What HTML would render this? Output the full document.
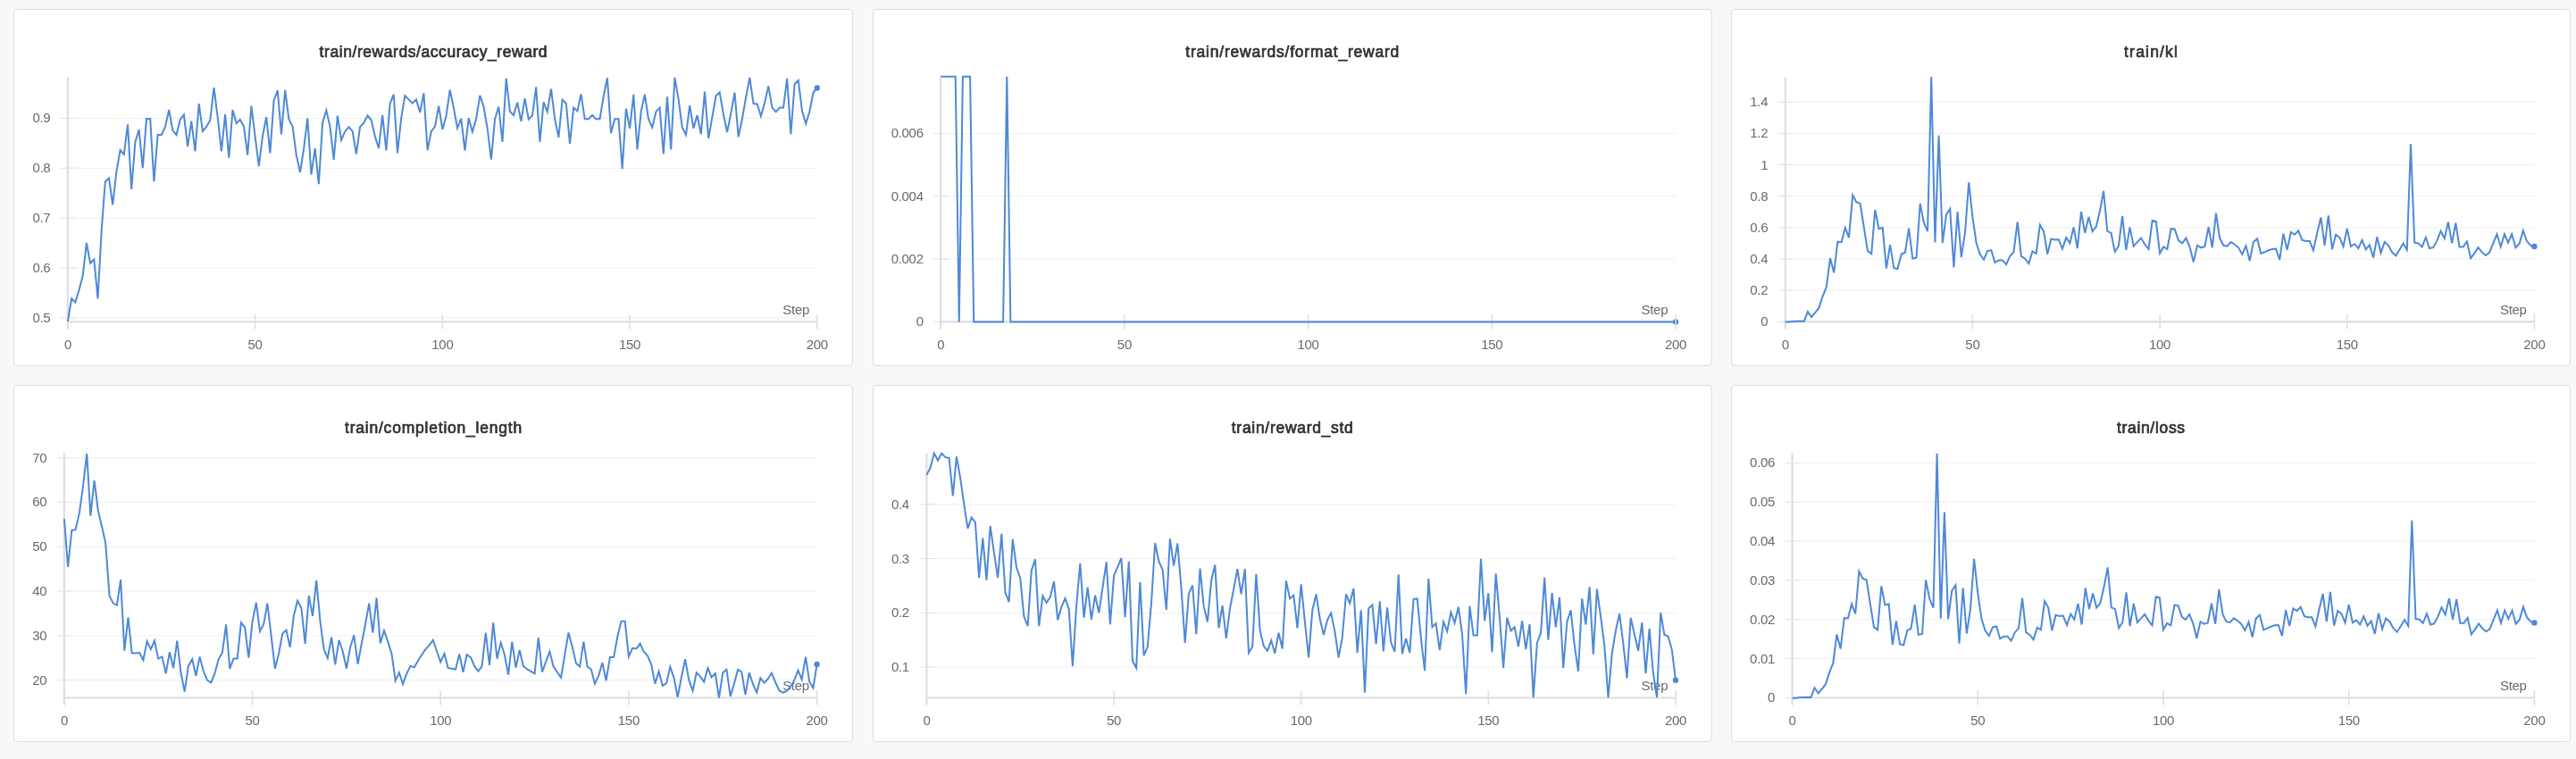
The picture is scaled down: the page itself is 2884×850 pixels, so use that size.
<!DOCTYPE html>
<html><head><meta charset="utf-8"><style>
html,body{margin:0;padding:0;background:#f8f8f8;}
body{width:2884px;height:850px;overflow:hidden;}
svg{display:block;will-change:transform;filter:blur(0.35px);}
.t{font-family:"Liberation Sans",sans-serif;font-weight:normal;font-size:17.5px;fill:#2f3136;stroke:#2f3136;stroke-width:0.7px;}
.l{font-family:"Liberation Sans",sans-serif;font-size:15px;fill:#676a72;letter-spacing:-0.3px;}
.g{stroke:#efeff1;stroke-width:1;}
.tk{stroke:#e2e2e6;stroke-width:1;}
.ax{stroke:#dedee3;stroke-width:2.2;}
.xt{stroke:#dedee3;stroke-width:1.6;}
.d{fill:none;stroke:#4e89d7;stroke-width:2;stroke-linejoin:miter;stroke-miterlimit:4;}
</style></head><body>
<svg width="2884" height="850" viewBox="0 0 2884 850">
<rect x="0" y="0" width="2884" height="850" fill="#f8f8f8"/>
<rect x="15.8" y="10.5" width="938.6" height="398.8" rx="3" ry="3" fill="#fff" stroke="#dcdcdc" stroke-width="1"/>
<text x="485.1" y="63.9" class="t" text-anchor="middle" textLength="255.0" lengthAdjust="spacing">train/rewards/accuracy_reward</text>
<line x1="75.9" y1="355.9" x2="914.8" y2="355.9" class="g"/>
<line x1="67.9" y1="355.9" x2="83.9" y2="355.9" class="tk"/>
<text x="56.4" y="360.8" class="l" text-anchor="end">0.5</text>
<line x1="75.9" y1="300.1" x2="914.8" y2="300.1" class="g"/>
<line x1="67.9" y1="300.1" x2="83.9" y2="300.1" class="tk"/>
<text x="56.4" y="304.9" class="l" text-anchor="end">0.6</text>
<line x1="75.9" y1="244.2" x2="914.8" y2="244.2" class="g"/>
<line x1="67.9" y1="244.2" x2="83.9" y2="244.2" class="tk"/>
<text x="56.4" y="249.1" class="l" text-anchor="end">0.7</text>
<line x1="75.9" y1="188.3" x2="914.8" y2="188.3" class="g"/>
<line x1="67.9" y1="188.3" x2="83.9" y2="188.3" class="tk"/>
<text x="56.4" y="193.2" class="l" text-anchor="end">0.8</text>
<line x1="75.9" y1="132.5" x2="914.8" y2="132.5" class="g"/>
<line x1="67.9" y1="132.5" x2="83.9" y2="132.5" class="tk"/>
<text x="56.4" y="137.4" class="l" text-anchor="end">0.9</text>
<text x="75.9" y="391.1" class="l" text-anchor="middle">0</text>
<text x="285.6" y="391.1" class="l" text-anchor="middle">50</text>
<text x="495.4" y="391.1" class="l" text-anchor="middle">100</text>
<text x="705.1" y="391.1" class="l" text-anchor="middle">150</text>
<text x="914.8" y="391.1" class="l" text-anchor="middle">200</text>
<line x1="75.9" y1="86.2" x2="75.9" y2="368.4" class="ax"/>
<line x1="75.9" y1="360.4" x2="914.8" y2="360.4" class="ax"/>
<line x1="285.6" y1="352.4" x2="285.6" y2="368.4" class="xt"/>
<line x1="495.4" y1="352.4" x2="495.4" y2="368.4" class="xt"/>
<line x1="705.1" y1="352.4" x2="705.1" y2="368.4" class="xt"/>
<text x="906.0" y="352.0" class="l" text-anchor="end">Step</text>
<polyline points="75.9,360.0 80.1,334.4 84.3,338.7 88.5,324.7 92.7,309.1 96.9,272.0 101.1,294.8 105.3,290.5 109.5,334.4 113.7,258.0 117.8,203.4 122.0,199.5 126.2,229.4 130.4,192.0 134.6,168.0 138.8,172.9 143.0,139.4 147.2,211.9 151.4,158.9 155.6,145.2 159.8,188.1 164.0,133.1 168.2,133.1 172.4,203.1 176.6,151.0 180.8,151.0 185.0,141.9 189.2,123.0 193.3,146.1 197.5,151.0 201.7,133.9 205.9,128.6 210.1,164.1 214.3,135.6 218.5,169.3 222.7,116.2 226.9,146.8 231.1,141.9 235.3,134.5 239.5,98.1 243.7,131.4 247.9,169.3 252.1,128.2 256.3,176.7 260.5,123.0 264.7,138.1 268.8,133.9 273.0,141.5 277.2,173.6 281.4,118.7 285.6,152.5 289.8,186.2 294.0,152.5 298.2,131.0 302.4,171.4 306.6,112.4 310.8,101.4 315.0,150.4 319.2,100.8 323.4,133.5 327.6,141.9 331.8,173.6 336.0,193.0 340.2,166.2 344.3,132.4 348.5,195.7 352.7,166.2 356.9,206.2 361.1,137.7 365.3,123.4 369.5,141.9 373.7,178.8 377.9,129.7 382.1,156.7 386.3,147.2 390.5,142.3 394.7,147.2 398.9,172.5 403.1,141.9 407.3,137.7 411.5,129.3 415.7,134.5 419.8,152.5 424.0,166.2 428.2,128.9 432.4,168.3 436.6,116.2 440.8,105.7 445.0,171.4 449.2,132.4 453.4,107.1 457.6,111.4 461.8,115.6 466.0,111.4 470.2,126.1 474.4,104.4 478.6,168.3 482.8,147.2 487.0,141.9 491.2,118.7 495.4,145.1 499.5,130.1 503.7,100.6 507.9,120.6 512.1,143.4 516.3,132.8 520.5,168.7 524.7,132.2 528.9,147.6 533.1,133.3 537.3,106.9 541.5,119.5 545.7,143.8 549.9,178.6 554.1,133.3 558.3,119.5 562.5,159.0 566.7,87.9 570.9,124.8 575.0,129.0 579.2,114.7 583.4,135.8 587.6,110.1 591.8,133.7 596.0,129.5 600.2,97.4 604.4,159.0 608.6,114.3 612.8,125.2 617.0,99.5 621.2,133.3 625.4,153.9 629.6,111.7 633.8,116.0 638.0,161.1 642.2,120.6 646.4,124.4 650.5,105.4 654.7,133.3 658.9,133.3 663.1,129.0 667.3,133.3 671.5,133.3 675.7,108.0 679.9,87.3 684.1,149.1 688.3,133.3 692.5,133.3 696.7,189.1 700.9,121.7 705.1,143.8 709.3,105.8 713.5,167.4 717.7,124.8 721.9,105.8 726.0,133.3 730.2,142.7 734.4,125.2 738.6,120.6 742.8,172.3 747.0,108.4 751.2,167.4 755.4,86.9 759.6,111.1 763.8,142.7 768.0,151.2 772.2,118.1 776.4,143.8 780.6,129.0 784.8,150.1 789.0,102.7 793.2,154.8 797.4,131.1 801.5,107.5 805.7,103.3 809.9,128.0 814.1,148.0 818.3,126.9 822.5,103.7 826.7,153.3 830.9,133.3 835.1,109.0 839.3,86.9 843.5,116.0 847.7,116.4 851.9,130.1 856.1,115.3 860.3,96.4 864.5,120.6 868.7,125.2 872.9,120.6 877.0,120.6 881.2,87.9 885.4,150.1 889.6,94.2 893.8,90.0 898.0,124.4 902.2,138.5 906.4,124.8 910.6,103.3 914.8,98.5" class="d"/>
<circle cx="914.8" cy="98.5" r="3.2" fill="#4e89d7"/>
<line x1="914.8" y1="352.4" x2="914.8" y2="368.4" class="xt"/>
<rect x="977.5" y="10.5" width="938.6" height="398.8" rx="3" ry="3" fill="#fff" stroke="#dcdcdc" stroke-width="1"/>
<text x="1446.8" y="63.9" class="t" text-anchor="middle" textLength="238.9" lengthAdjust="spacing">train/rewards/format_reward</text>
<line x1="1053.2" y1="360.4" x2="1876.0" y2="360.4" class="g"/>
<line x1="1045.2" y1="360.4" x2="1061.2" y2="360.4" class="tk"/>
<text x="1033.7" y="365.3" class="l" text-anchor="end">0</text>
<line x1="1053.2" y1="290.1" x2="1876.0" y2="290.1" class="g"/>
<line x1="1045.2" y1="290.1" x2="1061.2" y2="290.1" class="tk"/>
<text x="1033.7" y="295.0" class="l" text-anchor="end">0.002</text>
<line x1="1053.2" y1="219.8" x2="1876.0" y2="219.8" class="g"/>
<line x1="1045.2" y1="219.8" x2="1061.2" y2="219.8" class="tk"/>
<text x="1033.7" y="224.7" class="l" text-anchor="end">0.004</text>
<line x1="1053.2" y1="149.5" x2="1876.0" y2="149.5" class="g"/>
<line x1="1045.2" y1="149.5" x2="1061.2" y2="149.5" class="tk"/>
<text x="1033.7" y="154.4" class="l" text-anchor="end">0.006</text>
<text x="1053.2" y="391.1" class="l" text-anchor="middle">0</text>
<text x="1258.9" y="391.1" class="l" text-anchor="middle">50</text>
<text x="1464.6" y="391.1" class="l" text-anchor="middle">100</text>
<text x="1670.3" y="391.1" class="l" text-anchor="middle">150</text>
<text x="1876.0" y="391.1" class="l" text-anchor="middle">200</text>
<line x1="1053.2" y1="86.2" x2="1053.2" y2="368.4" class="ax"/>
<line x1="1053.2" y1="360.4" x2="1876.0" y2="360.4" class="ax"/>
<line x1="1258.9" y1="352.4" x2="1258.9" y2="368.4" class="xt"/>
<line x1="1464.6" y1="352.4" x2="1464.6" y2="368.4" class="xt"/>
<line x1="1670.3" y1="352.4" x2="1670.3" y2="368.4" class="xt"/>
<text x="1867.2" y="352.0" class="l" text-anchor="end">Step</text>
<polyline points="1053.2,85.8 1057.3,85.8 1061.4,85.8 1065.5,85.8 1069.7,85.8 1073.8,360.4 1077.9,85.8 1082.0,85.8 1086.1,85.8 1090.2,360.4 1094.3,360.4 1098.5,360.4 1102.6,360.4 1106.7,360.4 1110.8,360.4 1114.9,360.4 1119.0,360.4 1123.1,360.4 1127.3,85.8 1131.4,360.4 1135.5,360.4 1139.6,360.4 1143.7,360.4 1147.8,360.4 1151.9,360.4 1156.0,360.4 1160.2,360.4 1164.3,360.4 1168.4,360.4 1172.5,360.4 1176.6,360.4 1180.7,360.4 1184.8,360.4 1189.0,360.4 1193.1,360.4 1197.2,360.4 1201.3,360.4 1205.4,360.4 1209.5,360.4 1213.6,360.4 1217.8,360.4 1221.9,360.4 1226.0,360.4 1230.1,360.4 1234.2,360.4 1238.3,360.4 1242.4,360.4 1246.6,360.4 1250.7,360.4 1254.8,360.4 1258.9,360.4 1263.0,360.4 1267.1,360.4 1271.2,360.4 1275.4,360.4 1279.5,360.4 1283.6,360.4 1287.7,360.4 1291.8,360.4 1295.9,360.4 1300.0,360.4 1304.2,360.4 1308.3,360.4 1312.4,360.4 1316.5,360.4 1320.6,360.4 1324.7,360.4 1328.8,360.4 1333.0,360.4 1337.1,360.4 1341.2,360.4 1345.3,360.4 1349.4,360.4 1353.5,360.4 1357.6,360.4 1361.8,360.4 1365.9,360.4 1370.0,360.4 1374.1,360.4 1378.2,360.4 1382.3,360.4 1386.4,360.4 1390.5,360.4 1394.7,360.4 1398.8,360.4 1402.9,360.4 1407.0,360.4 1411.1,360.4 1415.2,360.4 1419.3,360.4 1423.5,360.4 1427.6,360.4 1431.7,360.4 1435.8,360.4 1439.9,360.4 1444.0,360.4 1448.1,360.4 1452.3,360.4 1456.4,360.4 1460.5,360.4 1464.6,360.4 1468.7,360.4 1472.8,360.4 1476.9,360.4 1481.1,360.4 1485.2,360.4 1489.3,360.4 1493.4,360.4 1497.5,360.4 1501.6,360.4 1505.7,360.4 1509.9,360.4 1514.0,360.4 1518.1,360.4 1522.2,360.4 1526.3,360.4 1530.4,360.4 1534.5,360.4 1538.7,360.4 1542.8,360.4 1546.9,360.4 1551.0,360.4 1555.1,360.4 1559.2,360.4 1563.3,360.4 1567.5,360.4 1571.6,360.4 1575.7,360.4 1579.8,360.4 1583.9,360.4 1588.0,360.4 1592.1,360.4 1596.2,360.4 1600.4,360.4 1604.5,360.4 1608.6,360.4 1612.7,360.4 1616.8,360.4 1620.9,360.4 1625.0,360.4 1629.2,360.4 1633.3,360.4 1637.4,360.4 1641.5,360.4 1645.6,360.4 1649.7,360.4 1653.8,360.4 1658.0,360.4 1662.1,360.4 1666.2,360.4 1670.3,360.4 1674.4,360.4 1678.5,360.4 1682.6,360.4 1686.8,360.4 1690.9,360.4 1695.0,360.4 1699.1,360.4 1703.2,360.4 1707.3,360.4 1711.4,360.4 1715.6,360.4 1719.7,360.4 1723.8,360.4 1727.9,360.4 1732.0,360.4 1736.1,360.4 1740.2,360.4 1744.4,360.4 1748.5,360.4 1752.6,360.4 1756.7,360.4 1760.8,360.4 1764.9,360.4 1769.0,360.4 1773.2,360.4 1777.3,360.4 1781.4,360.4 1785.5,360.4 1789.6,360.4 1793.7,360.4 1797.8,360.4 1801.9,360.4 1806.1,360.4 1810.2,360.4 1814.3,360.4 1818.4,360.4 1822.5,360.4 1826.6,360.4 1830.7,360.4 1834.9,360.4 1839.0,360.4 1843.1,360.4 1847.2,360.4 1851.3,360.4 1855.4,360.4 1859.5,360.4 1863.7,360.4 1867.8,360.4 1871.9,360.4 1876.0,360.4" class="d"/>
<circle cx="1876.0" cy="360.4" r="3.2" fill="#4e89d7"/>
<line x1="1876.0" y1="352.4" x2="1876.0" y2="368.4" class="xt"/>
<rect x="1938.7" y="10.5" width="938.6" height="398.8" rx="3" ry="3" fill="#fff" stroke="#dcdcdc" stroke-width="1"/>
<text x="2408.0" y="63.9" class="t" text-anchor="middle" textLength="59.9" lengthAdjust="spacing">train/kl</text>
<line x1="1998.7" y1="360.3" x2="2837.4" y2="360.3" class="g"/>
<line x1="1990.7" y1="360.3" x2="2006.7" y2="360.3" class="tk"/>
<text x="1979.2" y="365.2" class="l" text-anchor="end">0</text>
<line x1="1998.7" y1="325.2" x2="2837.4" y2="325.2" class="g"/>
<line x1="1990.7" y1="325.2" x2="2006.7" y2="325.2" class="tk"/>
<text x="1979.2" y="330.1" class="l" text-anchor="end">0.2</text>
<line x1="1998.7" y1="290.0" x2="2837.4" y2="290.0" class="g"/>
<line x1="1990.7" y1="290.0" x2="2006.7" y2="290.0" class="tk"/>
<text x="1979.2" y="294.9" class="l" text-anchor="end">0.4</text>
<line x1="1998.7" y1="254.9" x2="2837.4" y2="254.9" class="g"/>
<line x1="1990.7" y1="254.9" x2="2006.7" y2="254.9" class="tk"/>
<text x="1979.2" y="259.8" class="l" text-anchor="end">0.6</text>
<line x1="1998.7" y1="219.7" x2="2837.4" y2="219.7" class="g"/>
<line x1="1990.7" y1="219.7" x2="2006.7" y2="219.7" class="tk"/>
<text x="1979.2" y="224.6" class="l" text-anchor="end">0.8</text>
<line x1="1998.7" y1="184.6" x2="2837.4" y2="184.6" class="g"/>
<line x1="1990.7" y1="184.6" x2="2006.7" y2="184.6" class="tk"/>
<text x="1979.2" y="189.5" class="l" text-anchor="end">1</text>
<line x1="1998.7" y1="149.4" x2="2837.4" y2="149.4" class="g"/>
<line x1="1990.7" y1="149.4" x2="2006.7" y2="149.4" class="tk"/>
<text x="1979.2" y="154.3" class="l" text-anchor="end">1.2</text>
<line x1="1998.7" y1="114.3" x2="2837.4" y2="114.3" class="g"/>
<line x1="1990.7" y1="114.3" x2="2006.7" y2="114.3" class="tk"/>
<text x="1979.2" y="119.2" class="l" text-anchor="end">1.4</text>
<text x="1998.7" y="391.1" class="l" text-anchor="middle">0</text>
<text x="2208.4" y="391.1" class="l" text-anchor="middle">50</text>
<text x="2418.1" y="391.1" class="l" text-anchor="middle">100</text>
<text x="2627.7" y="391.1" class="l" text-anchor="middle">150</text>
<text x="2837.4" y="391.1" class="l" text-anchor="middle">200</text>
<line x1="1998.7" y1="86.2" x2="1998.7" y2="368.4" class="ax"/>
<line x1="1998.7" y1="360.4" x2="2837.4" y2="360.4" class="ax"/>
<line x1="2208.4" y1="352.4" x2="2208.4" y2="368.4" class="xt"/>
<line x1="2418.1" y1="352.4" x2="2418.1" y2="368.4" class="xt"/>
<line x1="2627.7" y1="352.4" x2="2627.7" y2="368.4" class="xt"/>
<text x="2828.6" y="352.0" class="l" text-anchor="end">Step</text>
<polyline points="1998.7,360.6 2002.9,360.6 2007.1,359.9 2011.3,359.7 2015.5,359.5 2019.7,359.9 2023.9,349.1 2028.1,355.1 2032.2,350.2 2036.4,344.9 2040.6,331.8 2044.8,321.4 2049.0,289.1 2053.2,305.3 2057.4,270.7 2061.6,271.2 2065.8,255.0 2070.0,266.1 2074.2,218.4 2078.4,226.4 2082.6,228.0 2086.8,254.6 2091.0,281.1 2095.2,284.1 2099.3,235.0 2103.5,256.2 2107.7,255.0 2111.9,300.7 2116.1,274.2 2120.3,300.2 2124.5,301.1 2128.7,284.5 2132.9,282.7 2137.1,255.7 2141.3,289.6 2145.5,288.7 2149.7,228.0 2153.9,249.4 2158.1,259.1 2162.2,86.1 2166.4,271.4 2170.6,151.9 2174.8,272.0 2179.0,240.4 2183.2,233.9 2187.4,299.5 2191.6,237.1 2195.8,288.2 2200.0,260.7 2204.2,204.2 2208.4,243.0 2212.6,272.0 2216.8,284.9 2221.0,290.8 2225.1,281.1 2229.3,280.1 2233.5,294.0 2237.7,291.4 2241.9,291.4 2246.1,296.2 2250.3,286.9 2254.5,282.3 2258.7,248.5 2262.9,286.9 2267.1,289.7 2271.3,295.1 2275.5,281.4 2279.7,283.9 2283.9,251.8 2288.1,259.2 2292.2,284.7 2296.4,267.4 2300.6,268.6 2304.8,268.3 2309.0,278.6 2313.2,266.1 2317.4,272.4 2321.6,254.6 2325.8,278.1 2330.0,237.0 2334.2,260.9 2338.4,243.1 2342.6,259.2 2346.8,253.9 2351.0,236.2 2355.1,213.9 2359.3,258.9 2363.5,260.9 2367.7,281.9 2371.9,275.7 2376.1,241.9 2380.3,279.8 2384.5,254.6 2388.7,275.7 2392.9,271.1 2397.1,266.6 2401.3,273.7 2405.5,279.0 2409.7,246.9 2413.9,248.0 2418.1,283.9 2422.2,276.5 2426.4,279.0 2430.6,256.2 2434.8,256.7 2439.0,269.4 2443.2,272.4 2447.4,266.6 2451.6,276.5 2455.8,293.4 2460.0,274.8 2464.2,277.3 2468.4,276.0 2472.6,254.3 2476.8,277.3 2481.0,238.6 2485.1,266.6 2489.3,274.8 2493.5,275.7 2497.7,271.1 2501.9,273.7 2506.1,277.3 2510.3,284.7 2514.5,275.3 2518.7,292.1 2522.9,271.1 2527.1,267.4 2531.3,283.9 2535.5,282.3 2539.7,280.3 2543.9,279.0 2548.0,278.6 2552.2,290.8 2556.4,261.7 2560.6,279.8 2564.8,260.0 2569.0,262.8 2573.2,258.4 2577.4,268.8 2581.6,269.9 2585.8,269.9 2590.0,280.3 2594.2,260.9 2598.4,243.6 2602.6,274.8 2606.8,241.4 2611.0,279.3 2615.1,262.8 2619.3,265.8 2623.5,276.0 2627.7,255.9 2631.9,276.0 2636.1,273.2 2640.3,278.1 2644.5,268.8 2648.7,279.3 2652.9,274.4 2657.1,288.5 2661.3,265.5 2665.5,283.1 2669.7,271.1 2673.9,274.8 2678.0,282.3 2682.2,286.4 2686.4,279.8 2690.6,272.7 2694.8,279.8 2699.0,161.4 2703.2,271.7 2707.4,272.4 2711.6,276.5 2715.8,265.8 2720.0,278.1 2724.2,277.2 2728.4,269.4 2732.6,258.7 2736.8,267.0 2740.9,248.7 2745.1,272.4 2749.3,249.7 2753.5,276.5 2757.7,276.5 2761.9,270.5 2766.1,289.1 2770.3,283.6 2774.5,277.2 2778.7,282.4 2782.9,286.0 2787.1,282.9 2791.3,272.4 2795.5,262.2 2799.7,276.5 2803.9,262.2 2808.0,271.7 2812.2,262.2 2816.4,277.2 2820.6,272.9 2824.8,258.2 2829.0,270.1 2833.2,274.8 2837.4,276.0" class="d"/>
<circle cx="2837.4" cy="276.0" r="3.2" fill="#4e89d7"/>
<line x1="2837.4" y1="352.4" x2="2837.4" y2="368.4" class="xt"/>
<rect x="15.8" y="431.6" width="938.6" height="398.8" rx="3" ry="3" fill="#fff" stroke="#dcdcdc" stroke-width="1"/>
<text x="485.1" y="485.0" class="t" text-anchor="middle" textLength="198.2" lengthAdjust="spacing">train/completion_length</text>
<line x1="71.9" y1="761.7" x2="914.6" y2="761.7" class="g"/>
<line x1="63.9" y1="761.7" x2="79.9" y2="761.7" class="tk"/>
<text x="52.4" y="766.6" class="l" text-anchor="end">20</text>
<line x1="71.9" y1="711.9" x2="914.6" y2="711.9" class="g"/>
<line x1="63.9" y1="711.9" x2="79.9" y2="711.9" class="tk"/>
<text x="52.4" y="716.8" class="l" text-anchor="end">30</text>
<line x1="71.9" y1="662.1" x2="914.6" y2="662.1" class="g"/>
<line x1="63.9" y1="662.1" x2="79.9" y2="662.1" class="tk"/>
<text x="52.4" y="667.0" class="l" text-anchor="end">40</text>
<line x1="71.9" y1="612.3" x2="914.6" y2="612.3" class="g"/>
<line x1="63.9" y1="612.3" x2="79.9" y2="612.3" class="tk"/>
<text x="52.4" y="617.2" class="l" text-anchor="end">50</text>
<line x1="71.9" y1="562.5" x2="914.6" y2="562.5" class="g"/>
<line x1="63.9" y1="562.5" x2="79.9" y2="562.5" class="tk"/>
<text x="52.4" y="567.4" class="l" text-anchor="end">60</text>
<line x1="71.9" y1="512.7" x2="914.6" y2="512.7" class="g"/>
<line x1="63.9" y1="512.7" x2="79.9" y2="512.7" class="tk"/>
<text x="52.4" y="517.6" class="l" text-anchor="end">70</text>
<text x="71.9" y="812.2" class="l" text-anchor="middle">0</text>
<text x="282.6" y="812.2" class="l" text-anchor="middle">50</text>
<text x="493.2" y="812.2" class="l" text-anchor="middle">100</text>
<text x="703.9" y="812.2" class="l" text-anchor="middle">150</text>
<text x="914.6" y="812.2" class="l" text-anchor="middle">200</text>
<line x1="71.9" y1="507.3" x2="71.9" y2="789.5" class="ax"/>
<line x1="71.9" y1="781.5" x2="914.6" y2="781.5" class="ax"/>
<line x1="282.6" y1="773.5" x2="282.6" y2="789.5" class="xt"/>
<line x1="493.2" y1="773.5" x2="493.2" y2="789.5" class="xt"/>
<line x1="703.9" y1="773.5" x2="703.9" y2="789.5" class="xt"/>
<text x="905.8" y="773.1" class="l" text-anchor="end">Step</text>
<polyline points="71.9,581.2 76.1,635.0 80.3,593.9 84.5,593.2 88.8,574.9 93.0,544.3 97.2,508.0 101.4,577.6 105.6,538.0 109.8,571.7 114.0,589.6 118.2,608.6 122.5,667.1 126.7,675.6 130.9,677.8 135.1,649.1 139.3,728.7 143.5,691.3 147.7,731.6 152.0,731.6 156.2,731.1 160.4,739.2 164.6,718.1 168.8,727.1 173.0,717.5 177.2,737.6 181.5,735.4 185.7,754.4 189.9,730.2 194.1,748.2 198.3,717.5 202.5,753.3 206.7,774.6 210.9,745.9 215.2,738.3 219.4,756.7 223.6,735.4 227.8,751.8 232.0,761.6 236.2,764.5 240.4,754.4 244.7,738.3 248.9,730.9 253.1,699.5 257.3,748.8 261.5,737.6 265.7,737.6 269.9,697.3 274.1,702.5 278.4,736.5 282.6,696.2 286.8,674.9 291.0,706.9 295.2,698.9 299.4,675.6 303.6,711.9 307.9,748.8 312.1,732.0 316.3,709.6 320.5,705.6 324.7,724.9 328.9,689.5 333.1,672.7 337.4,680.9 341.6,720.8 345.8,667.1 350.0,689.9 354.2,650.2 358.4,695.1 362.6,727.1 366.8,737.0 371.1,713.7 375.3,744.4 379.5,716.8 383.7,729.3 387.9,748.8 392.1,724.9 396.3,711.4 400.6,743.7 404.8,720.8 409.0,699.5 413.2,675.6 417.4,708.5 421.6,669.7 425.8,720.4 430.0,706.3 434.3,718.6 438.5,732.0 442.7,762.3 446.9,753.3 451.1,766.1 455.3,754.4 459.5,745.9 463.8,747.3 468.0,739.9 472.2,733.2 476.4,727.1 480.6,722.6 484.8,716.8 489.0,729.3 493.2,741.4 497.5,732.0 501.7,748.2 505.9,748.8 510.1,749.5 514.3,732.5 518.5,752.7 522.7,733.2 527.0,736.1 531.2,745.9 535.4,751.8 539.6,745.9 543.8,708.5 548.0,745.0 552.2,697.3 556.5,737.6 560.7,719.7 564.9,733.2 569.1,755.6 573.3,718.6 577.5,747.7 581.7,728.0 585.9,745.9 590.2,749.5 594.4,751.8 598.6,754.4 602.8,714.1 607.0,752.7 611.2,741.0 615.4,729.8 619.7,746.6 623.9,752.7 628.1,758.9 632.3,733.2 636.5,708.5 640.7,724.2 644.9,742.8 649.1,746.6 653.4,718.6 657.6,746.6 661.8,749.5 666.0,765.6 670.2,756.7 674.4,742.1 678.6,762.3 682.9,736.1 687.1,736.1 691.3,713.0 695.5,695.7 699.7,695.7 703.9,735.4 708.1,725.8 712.4,726.4 716.6,720.8 720.8,729.8 725.0,734.3 729.2,744.4 733.4,765.6 737.6,752.2 741.8,767.9 746.1,765.2 750.3,746.6 754.5,758.9 758.7,780.9 762.9,758.5 767.1,738.3 771.3,761.6 775.6,773.5 779.8,753.3 784.0,757.6 788.2,763.6 792.4,748.2 796.6,758.5 800.8,754.2 805.0,781.6 809.3,753.3 813.5,749.9 817.7,779.9 821.9,765.8 826.1,749.9 830.3,752.5 834.5,778.2 838.8,753.3 843.0,766.2 847.2,775.6 851.4,759.3 855.6,764.8 859.8,760.2 864.0,753.8 868.3,764.5 872.5,773.4 876.7,775.6 880.9,773.9 885.1,768.7 889.3,761.9 893.5,750.8 897.7,761.0 902.0,735.7 906.2,763.6 910.4,770.4 914.6,743.9" class="d"/>
<circle cx="914.6" cy="743.9" r="3.2" fill="#4e89d7"/>
<line x1="914.6" y1="773.5" x2="914.6" y2="789.5" class="xt"/>
<rect x="977.5" y="431.6" width="938.6" height="398.8" rx="3" ry="3" fill="#fff" stroke="#dcdcdc" stroke-width="1"/>
<text x="1446.8" y="485.0" class="t" text-anchor="middle" textLength="136.0" lengthAdjust="spacing">train/reward_std</text>
<line x1="1037.4" y1="747.1" x2="1876.0" y2="747.1" class="g"/>
<line x1="1029.4" y1="747.1" x2="1045.4" y2="747.1" class="tk"/>
<text x="1017.9" y="752.0" class="l" text-anchor="end">0.1</text>
<line x1="1037.4" y1="686.4" x2="1876.0" y2="686.4" class="g"/>
<line x1="1029.4" y1="686.4" x2="1045.4" y2="686.4" class="tk"/>
<text x="1017.9" y="691.3" class="l" text-anchor="end">0.2</text>
<line x1="1037.4" y1="625.6" x2="1876.0" y2="625.6" class="g"/>
<line x1="1029.4" y1="625.6" x2="1045.4" y2="625.6" class="tk"/>
<text x="1017.9" y="630.5" class="l" text-anchor="end">0.3</text>
<line x1="1037.4" y1="564.9" x2="1876.0" y2="564.9" class="g"/>
<line x1="1029.4" y1="564.9" x2="1045.4" y2="564.9" class="tk"/>
<text x="1017.9" y="569.8" class="l" text-anchor="end">0.4</text>
<text x="1037.4" y="812.2" class="l" text-anchor="middle">0</text>
<text x="1247.1" y="812.2" class="l" text-anchor="middle">50</text>
<text x="1456.7" y="812.2" class="l" text-anchor="middle">100</text>
<text x="1666.3" y="812.2" class="l" text-anchor="middle">150</text>
<text x="1876.0" y="812.2" class="l" text-anchor="middle">200</text>
<line x1="1037.4" y1="507.3" x2="1037.4" y2="789.5" class="ax"/>
<line x1="1037.4" y1="781.5" x2="1876.0" y2="781.5" class="ax"/>
<line x1="1247.1" y1="773.5" x2="1247.1" y2="789.5" class="xt"/>
<line x1="1456.7" y1="773.5" x2="1456.7" y2="789.5" class="xt"/>
<line x1="1666.3" y1="773.5" x2="1666.3" y2="789.5" class="xt"/>
<text x="1867.2" y="773.1" class="l" text-anchor="end">Step</text>
<polyline points="1037.4,531.9 1041.6,523.8 1045.8,507.6 1050.0,515.7 1054.2,507.6 1058.4,512.1 1062.6,513.0 1066.8,555.3 1070.9,511.3 1075.1,535.1 1079.3,564.8 1083.5,591.8 1087.7,579.6 1091.9,585.0 1096.1,647.1 1100.3,602.6 1104.5,649.8 1108.7,589.1 1112.9,618.8 1117.1,647.1 1121.3,597.7 1125.5,663.3 1129.6,674.1 1133.8,603.9 1138.0,635.5 1142.2,647.1 1146.4,690.3 1150.6,701.1 1154.8,639.0 1159.0,626.4 1163.2,701.1 1167.4,667.4 1171.6,674.9 1175.8,668.7 1180.0,651.2 1184.2,694.4 1188.3,680.2 1192.5,670.0 1196.7,682.0 1200.9,746.1 1205.1,678.7 1209.3,630.9 1213.5,691.7 1217.7,657.6 1221.9,693.9 1226.1,666.7 1230.3,686.3 1234.5,657.6 1238.7,629.3 1242.9,699.3 1247.1,644.6 1251.2,635.2 1255.4,625.0 1259.6,691.1 1263.8,628.7 1268.0,740.2 1272.2,748.3 1276.4,652.0 1280.6,734.1 1284.8,724.3 1289.0,675.4 1293.2,608.0 1297.4,628.7 1301.6,638.0 1305.8,683.0 1309.9,603.3 1314.1,633.7 1318.3,608.5 1322.5,658.0 1326.7,720.0 1330.9,664.9 1335.1,655.7 1339.3,710.3 1343.5,636.5 1347.7,679.2 1351.9,696.5 1356.1,650.4 1360.3,632.6 1364.5,703.4 1368.6,678.0 1372.8,714.9 1377.0,681.5 1381.2,659.6 1385.4,637.2 1389.6,665.4 1393.8,637.2 1398.0,731.1 1402.2,724.2 1406.4,642.8 1410.6,705.7 1414.8,723.5 1419.0,728.8 1423.2,717.3 1427.3,731.8 1431.5,708.7 1435.7,726.5 1439.9,650.4 1444.1,670.4 1448.3,666.5 1452.5,703.4 1456.7,654.3 1460.9,696.5 1465.1,736.4 1469.3,683.3 1473.5,665.4 1477.7,693.0 1481.9,711.0 1486.1,694.2 1490.2,686.6 1494.4,706.9 1498.6,736.4 1502.8,713.8 1507.0,665.4 1511.2,675.7 1515.4,658.9 1519.6,731.1 1523.8,683.3 1528.0,775.6 1532.2,681.5 1536.4,677.4 1540.6,721.2 1544.8,673.4 1548.9,729.5 1553.1,680.3 1557.3,719.6 1561.5,729.9 1565.7,643.4 1569.9,732.2 1574.1,714.9 1578.3,731.1 1582.5,671.1 1586.7,670.4 1590.9,714.9 1595.1,751.2 1599.3,648.1 1603.5,702.3 1607.6,698.1 1611.8,728.1 1616.0,696.5 1620.2,706.9 1624.4,685.7 1628.6,697.6 1632.8,679.7 1637.0,710.3 1641.2,777.2 1645.4,678.7 1649.6,711.5 1653.8,711.5 1658.0,625.7 1662.2,695.3 1666.3,664.2 1670.5,730.4 1674.7,642.3 1678.9,690.7 1683.1,747.9 1687.3,691.9 1691.5,706.4 1695.7,702.3 1699.9,724.2 1704.1,695.3 1708.3,727.2 1712.5,698.8 1716.7,781.1 1720.9,719.6 1725.1,708.7 1729.2,646.9 1733.4,716.6 1737.6,664.2 1741.8,702.3 1746.0,668.8 1750.2,747.9 1754.4,696.5 1758.6,683.3 1762.8,723.0 1767.0,751.9 1771.2,670.4 1775.4,699.5 1779.6,657.3 1783.8,732.7 1787.9,659.6 1792.1,690.7 1796.3,723.0 1800.5,781.1 1804.7,732.2 1808.9,706.4 1813.1,687.3 1817.3,720.3 1821.5,759.5 1825.7,691.9 1829.9,710.3 1834.1,728.8 1838.3,697.2 1842.5,754.2 1846.6,704.1 1850.8,753.0 1855.0,781.1 1859.2,686.1 1863.4,711.0 1867.6,712.6 1871.8,727.6 1876.0,761.8" class="d"/>
<circle cx="1876.0" cy="761.8" r="3.2" fill="#4e89d7"/>
<line x1="1876.0" y1="773.5" x2="1876.0" y2="789.5" class="xt"/>
<rect x="1938.7" y="431.6" width="938.6" height="398.8" rx="3" ry="3" fill="#fff" stroke="#dcdcdc" stroke-width="1"/>
<text x="2408.0" y="485.0" class="t" text-anchor="middle" textLength="76.1" lengthAdjust="spacing">train/loss</text>
<line x1="2006.6" y1="781.5" x2="2837.4" y2="781.5" class="g"/>
<line x1="1998.6" y1="781.5" x2="2014.6" y2="781.5" class="tk"/>
<text x="1987.1" y="786.4" class="l" text-anchor="end">0</text>
<line x1="2006.6" y1="737.6" x2="2837.4" y2="737.6" class="g"/>
<line x1="1998.6" y1="737.6" x2="2014.6" y2="737.6" class="tk"/>
<text x="1987.1" y="742.5" class="l" text-anchor="end">0.01</text>
<line x1="2006.6" y1="693.8" x2="2837.4" y2="693.8" class="g"/>
<line x1="1998.6" y1="693.8" x2="2014.6" y2="693.8" class="tk"/>
<text x="1987.1" y="698.7" class="l" text-anchor="end">0.02</text>
<line x1="2006.6" y1="650.0" x2="2837.4" y2="650.0" class="g"/>
<line x1="1998.6" y1="650.0" x2="2014.6" y2="650.0" class="tk"/>
<text x="1987.1" y="654.9" class="l" text-anchor="end">0.03</text>
<line x1="2006.6" y1="606.1" x2="2837.4" y2="606.1" class="g"/>
<line x1="1998.6" y1="606.1" x2="2014.6" y2="606.1" class="tk"/>
<text x="1987.1" y="611.0" class="l" text-anchor="end">0.04</text>
<line x1="2006.6" y1="562.2" x2="2837.4" y2="562.2" class="g"/>
<line x1="1998.6" y1="562.2" x2="2014.6" y2="562.2" class="tk"/>
<text x="1987.1" y="567.1" class="l" text-anchor="end">0.05</text>
<line x1="2006.6" y1="518.4" x2="2837.4" y2="518.4" class="g"/>
<line x1="1998.6" y1="518.4" x2="2014.6" y2="518.4" class="tk"/>
<text x="1987.1" y="523.3" class="l" text-anchor="end">0.06</text>
<text x="2006.6" y="812.2" class="l" text-anchor="middle">0</text>
<text x="2214.3" y="812.2" class="l" text-anchor="middle">50</text>
<text x="2422.0" y="812.2" class="l" text-anchor="middle">100</text>
<text x="2629.7" y="812.2" class="l" text-anchor="middle">150</text>
<text x="2837.4" y="812.2" class="l" text-anchor="middle">200</text>
<line x1="2006.6" y1="507.3" x2="2006.6" y2="789.5" class="ax"/>
<line x1="2006.6" y1="781.5" x2="2837.4" y2="781.5" class="ax"/>
<line x1="2214.3" y1="773.5" x2="2214.3" y2="789.5" class="xt"/>
<line x1="2422.0" y1="773.5" x2="2422.0" y2="789.5" class="xt"/>
<line x1="2629.7" y1="773.5" x2="2629.7" y2="789.5" class="xt"/>
<text x="2828.6" y="773.1" class="l" text-anchor="end">Step</text>
<polyline points="2006.6,781.8 2010.8,781.8 2014.9,781.1 2019.1,780.9 2023.2,780.7 2027.4,781.1 2031.5,770.3 2035.7,776.3 2039.8,771.5 2044.0,766.2 2048.1,753.1 2052.3,742.7 2056.4,710.5 2060.6,726.6 2064.8,692.1 2068.9,692.5 2073.1,676.4 2077.2,687.5 2081.4,639.8 2085.5,647.9 2089.7,649.5 2093.8,676.0 2098.0,702.4 2102.1,705.4 2106.3,656.4 2110.4,677.6 2114.6,676.4 2118.8,722.0 2122.9,695.5 2127.1,721.5 2131.2,722.5 2135.4,705.9 2139.5,704.0 2143.7,677.1 2147.8,710.9 2152.0,710.0 2156.1,649.5 2160.3,670.8 2164.5,680.5 2168.6,507.9 2172.8,692.8 2176.9,573.5 2181.1,693.4 2185.2,661.8 2189.4,655.4 2193.5,720.8 2197.7,658.6 2201.8,709.5 2206.0,682.1 2210.1,625.7 2214.3,664.4 2218.5,693.4 2222.6,706.3 2226.8,712.1 2230.9,702.4 2235.1,701.5 2239.2,715.3 2243.4,712.7 2247.5,712.7 2251.7,717.6 2255.8,708.2 2260.0,703.6 2264.1,669.9 2268.3,708.2 2272.5,711.0 2276.6,716.4 2280.8,702.8 2284.9,705.3 2289.1,673.2 2293.2,680.6 2297.4,706.1 2301.5,688.8 2305.7,690.0 2309.8,689.6 2314.0,700.0 2318.2,687.5 2322.3,693.8 2326.5,676.0 2330.6,699.5 2334.8,658.4 2338.9,682.2 2343.1,664.5 2347.2,680.6 2351.4,675.3 2355.5,657.6 2359.7,635.4 2363.8,680.3 2368.0,682.2 2372.2,703.3 2376.3,697.0 2380.5,663.4 2384.6,701.1 2388.8,676.0 2392.9,697.0 2397.1,692.4 2401.2,688.0 2405.4,695.1 2409.5,700.3 2413.7,668.3 2417.8,669.4 2422.0,705.3 2426.2,697.9 2430.3,700.3 2434.5,677.6 2438.6,678.1 2442.8,690.8 2446.9,693.8 2451.1,688.0 2455.2,697.9 2459.4,714.8 2463.5,696.2 2467.7,698.7 2471.8,697.4 2476.0,675.7 2480.2,698.7 2484.3,660.1 2488.5,688.0 2492.6,696.2 2496.8,697.0 2500.9,692.4 2505.1,695.1 2509.2,698.7 2513.4,706.1 2517.5,696.7 2521.7,713.5 2525.8,692.4 2530.0,688.8 2534.2,705.3 2538.3,703.6 2542.5,701.6 2546.6,700.3 2550.8,700.0 2554.9,712.2 2559.1,683.1 2563.2,701.1 2567.4,681.4 2571.5,684.2 2575.7,679.8 2579.9,690.1 2584.0,691.3 2588.2,691.3 2592.3,701.6 2596.5,682.2 2600.6,665.0 2604.8,696.2 2608.9,662.9 2613.1,700.7 2617.2,684.2 2621.4,687.2 2625.5,697.4 2629.7,677.3 2633.9,697.4 2638.0,694.6 2642.2,699.5 2646.3,690.1 2650.5,700.7 2654.6,695.7 2658.8,709.9 2662.9,686.8 2667.1,704.4 2671.2,692.4 2675.4,696.2 2679.5,703.6 2683.7,707.7 2687.9,701.1 2692.0,694.1 2696.2,701.1 2700.3,582.9 2704.5,693.1 2708.6,693.8 2712.8,697.8 2716.9,687.2 2721.1,699.5 2725.2,698.5 2729.4,690.7 2733.6,680.1 2737.7,688.4 2741.9,670.1 2746.0,693.8 2750.2,671.1 2754.3,697.8 2758.5,697.8 2762.6,691.9 2766.8,710.4 2770.9,704.9 2775.1,698.5 2779.2,703.8 2783.4,707.3 2787.6,704.2 2791.7,693.8 2795.9,683.6 2800.0,697.8 2804.2,683.6 2808.3,693.1 2812.5,683.6 2816.6,698.5 2820.8,694.3 2824.9,679.6 2829.1,691.4 2833.2,696.2 2837.4,697.4" class="d"/>
<circle cx="2837.4" cy="697.4" r="3.2" fill="#4e89d7"/>
<line x1="2837.4" y1="773.5" x2="2837.4" y2="789.5" class="xt"/>
</svg>
</body></html>
